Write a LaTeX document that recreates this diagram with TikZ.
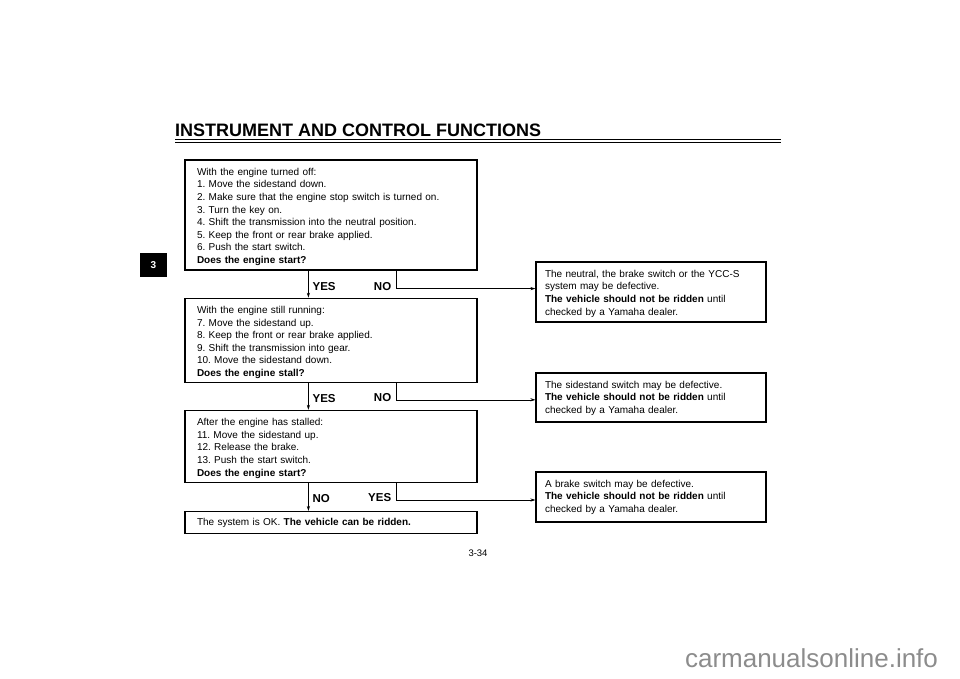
\documentclass[tikz,border=0pt]{standalone}
\usepackage{fontspec}
\setmainfont{Liberation Sans}
\frenchspacing
\usetikzlibrary{arrows.meta,positioning,calc}
\definecolor{markgray}{HTML}{8C8C8C}
\tikzset{
  fc/stepbox/.style={draw, line width=1.2pt, text width=268pt, inner xsep=12pt, inner ysep=0pt, align=left, font=\fontsize{10}{12.6}\selectfont},
  fc/resultbox/.style={fc/stepbox, text width=212pt, inner xsep=9pt},
  fc/top/.style={inner ysep=8pt, text height=7.2pt, text depth=#1},
  fc/answer/.style={font=\bfseries\fontsize{11.5}{12}\selectfont, inner sep=0pt},
  fc/yes/.style={line width=0.8pt, -{Stealth[length=5pt,width=3.2pt]}},
  fc/no/.style={line width=0.6pt, -{Stealth[length=5pt,width=3.2pt]}},
  fc/tab/.style={fill=black, text=white, font=\bfseries\fontsize{10}{12}\selectfont, minimum width=27pt, minimum height=24pt, inner sep=0pt}
}
\begin{document}
\begin{tikzpicture}[x=1pt, y=-1pt, node distance=27pt]
  \useasboundingbox (0,0) rectangle (960,678);

  % page head
  \node[anchor=base west, inner sep=0pt, font=\bfseries\fontsize{18}{20}\selectfont] (title) at (175,136.5) {INSTRUMENT AND CONTROL FUNCTIONS};
  \draw[line width=1.5pt] (175,139.6) -- (781,139.6);
  \draw[line width=1.1pt] (175,142.8) -- (781,142.8);
  \node[fc/tab] (tab) at (153.5,265) {3};

  % checks
  \node[fc/stepbox, fc/top=86.8pt] (box1) at (331,215) {With the engine turned off:\\
    1. Move the sidestand down.\\
    2. Make sure that the engine stop switch is turned on.\\
    3. Turn the key on.\\
    4. Shift the transmission into the neutral position.\\
    5. Keep the front or rear brake applied.\\
    6. Push the start switch.\\
    \textbf{Does the engine start?}};
  \node[fc/stepbox, fc/top=60.8pt, below=of box1] (box2) {With the engine still running:\\
    7. Move the sidestand up.\\
    8. Keep the front or rear brake applied.\\
    9. Shift the transmission into gear.\\
    10. Move the sidestand down.\\
    \textbf{Does the engine stall?}};
  \node[fc/stepbox, fc/top=48.8pt, below=of box2] (box3) {After the engine has stalled:\\
    11. Move the sidestand up.\\
    12. Release the brake.\\
    13. Push the start switch.\\
    \textbf{Does the engine start?}};
  \node[fc/stepbox, minimum height=22pt, below=28pt of box3] (box4) {The system is OK. \textbf{The vehicle can be ridden.}};

  % faults
  \node[fc/resultbox, fc/top=36.8pt] (r1) at (651,292) {The neutral, the brake switch or the YCC-S\\
    system may be defective.\\
    \textbf{The vehicle should not be ridden} until\\
    checked by a Yamaha dealer.};
  \node[fc/resultbox, fc/top=25.8pt] (r2) at (651,397.5) {The sidestand switch may be defective.\\
    \textbf{The vehicle should not be ridden} until\\
    checked by a Yamaha dealer.};
  \node[fc/resultbox, fc/top=26.8pt] (r3) at (651,497) {A brake switch may be defective.\\
    \textbf{The vehicle should not be ridden} until\\
    checked by a Yamaha dealer.};

  % branches
  \coordinate (y1) at ($(box1.south west)+(124,0)$);
  \coordinate (k1) at ($(box1.south west)+(212,18)$);
  \draw[fc/yes] (y1) -- (y1 |- box2.north);
  \draw[fc/no] (box1.south -| k1) -- (k1) -- (k1 -| r1.west);
  \node[fc/answer, anchor=west] (yes1) at ($(y1)+(4,16)$) {YES};
  \node[fc/answer, anchor=east] (no1) at ($(k1)+(-5,-2)$) {NO};

  \coordinate (y2) at ($(box2.south west)+(124,0)$);
  \coordinate (k2) at ($(box2.south west)+(212,17)$);
  \draw[fc/yes] (y2) -- (y2 |- box3.north);
  \draw[fc/no] (box2.south -| k2) -- (k2) -- (k2 -| r2.west);
  \node[fc/answer, anchor=west] (yes2) at ($(y2)+(4,16)$) {YES};
  \node[fc/answer, anchor=east] (no2) at ($(k2)+(-5,-2)$) {NO};

  \coordinate (y3) at ($(box3.south west)+(124,0)$);
  \coordinate (k3) at ($(box3.south west)+(212,17)$);
  \draw[fc/yes] (y3) -- (y3 |- box4.north);
  \draw[fc/no] (box3.south -| k3) -- (k3) -- (k3 -| r3.west);
  \node[fc/answer, anchor=west] (no3) at ($(y3)+(4,16)$) {NO};
  \node[fc/answer, anchor=east] (yes3) at ($(k3)+(-5,-2)$) {YES};

  % foot
  \node[font=\fontsize{9.5}{11}\selectfont] (page) at (478,553) {3-34};
  \node[text=markgray, font=\fontsize{26}{30}\selectfont] (site) at (811.5,658) {carmanualsonline.info};
\end{tikzpicture}
\end{document}
